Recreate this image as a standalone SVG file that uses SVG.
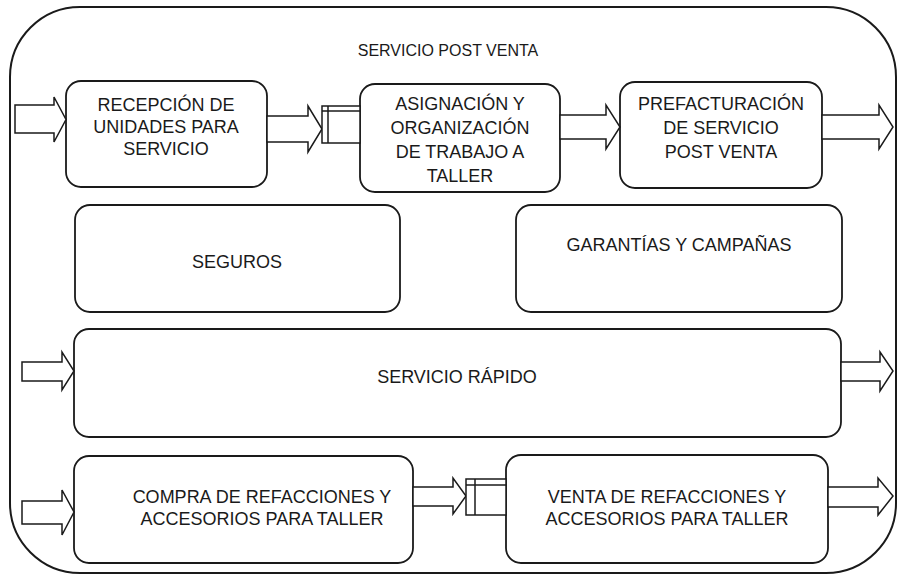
<svg xmlns="http://www.w3.org/2000/svg" width="897" height="575" viewBox="0 0 897 575">
<style>
.box{fill:#fff;stroke:#1a1a1a;stroke-width:1.8}
.arr{fill:#fff;stroke:#1a1a1a;stroke-width:1.5;stroke-linejoin:miter}
.t{font-family:"Liberation Sans",Arial,sans-serif;font-size:18px;fill:#1a1a1a;text-anchor:middle}
.ttl{font-size:16px}
</style>
<rect width="897" height="575" fill="#fff"/>
<g id="container">
<rect x="10" y="7" width="886" height="566" rx="70" ry="70" fill="none" stroke="#1a1a1a" stroke-width="2"/>
<text class="t ttl" x="448" y="56">SERVICIO POST VENTA</text>
</g>
<g id="recepcion">
<rect class="box" x="66" y="81" width="201" height="106" rx="15"/>
<text class="t" x="166" y="111">RECEPCIÓN DE</text>
<text class="t" x="166" y="133">UNIDADES PARA</text>
<text class="t" x="166" y="155">SERVICIO</text>
</g>
<g id="asignacion">
<rect class="box" x="360" y="84" width="200" height="108" rx="15"/>
<text class="t" x="460" y="110">ASIGNACIÓN Y</text>
<text class="t" x="460" y="134">ORGANIZACIÓN</text>
<text class="t" x="460" y="158">DE TRABAJO A</text>
<text class="t" x="460" y="182">TALLER</text>
</g>
<g id="prefacturacion">
<rect class="box" x="620" y="82" width="202" height="106" rx="15"/>
<text class="t" x="721" y="110">PREFACTURACIÓN</text>
<text class="t" x="721" y="134">DE SERVICIO</text>
<text class="t" x="721" y="158">POST VENTA</text>
</g>
<g id="seguros">
<rect class="box" x="75" y="205" width="325" height="107" rx="15"/>
<text class="t" x="237" y="268">SEGUROS</text>
</g>
<g id="garantias">
<rect class="box" x="516" y="205" width="326" height="107" rx="15"/>
<text class="t" x="679" y="251">GARANTÍAS Y CAMPAÑAS</text>
</g>
<g id="rapido">
<rect class="box" x="74" y="329" width="767" height="108" rx="15"/>
<text class="t" x="457" y="383">SERVICIO RÁPIDO</text>
</g>
<g id="compra">
<rect class="box" x="74" y="456" width="339" height="107" rx="15"/>
<text class="t" x="262" y="503">COMPRA DE REFACCIONES Y</text>
<text class="t" x="262" y="525">ACCESORIOS PARA TALLER</text>
</g>
<g id="venta">
<rect class="box" x="506" y="455" width="322" height="108" rx="15"/>
<text class="t" x="667" y="503">VENTA DE REFACCIONES Y</text>
<text class="t" x="667" y="525">ACCESORIOS PARA TALLER</text>
</g>
<g id="connectors">
<polygon class="arr" points="15,105 54,105 54,97 66,119.5 54,142 54,133 15,133"/>
<polygon class="arr" points="267,116 308,116 308,106 322,129 308,152 308,142 267,142"/>
<rect class="arr" x="322" y="106" width="38" height="37"/>
<line class="arr" x1="328" y1="106" x2="328" y2="143"/>
<line class="arr" x1="322" y1="111" x2="360" y2="111"/>
<polygon class="arr" points="560,115 606,115 606,105 620,127 606,149 606,139 560,139"/>
<polygon class="arr" points="822,115 879,115 879,105 893,127 879,149 879,139 822,139"/>
<polygon class="arr" points="22,362 62,362 62,352 74,371 62,390 62,381 22,381"/>
<polygon class="arr" points="841,362 880,362 880,352 893,371 880,391 880,381 841,381"/>
<polygon class="arr" points="22,501 62,501 62,490 74,512 62,535 62,524 22,524"/>
<polygon class="arr" points="413,487 453,487 453,478 466,496 453,514 453,506 413,506"/>
<rect class="arr" x="466" y="479" width="40" height="36"/>
<line class="arr" x1="475" y1="479" x2="475" y2="515"/>
<line class="arr" x1="466" y1="485" x2="506" y2="485"/>
<polygon class="arr" points="828,487 878,487 878,478 893,496 878,515 878,507 828,507"/>
</g>
</svg>
